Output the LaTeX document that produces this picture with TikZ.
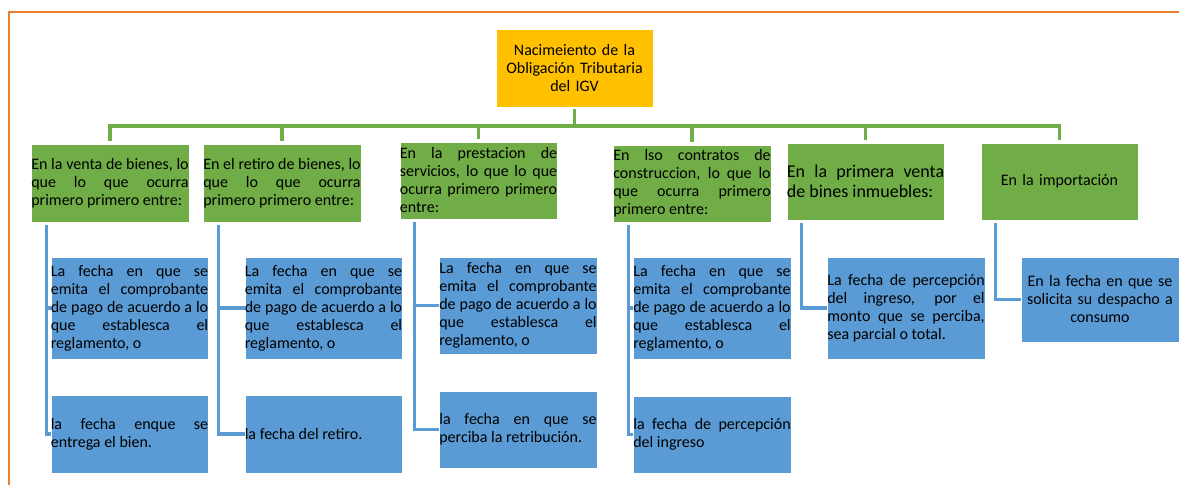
\documentclass[tikz,border=0pt]{standalone}
\usepackage{fontspec}
\setmainfont{Carlito}
\usepackage{tikz}
\definecolor{igvorange}{HTML}{FFC000}
\definecolor{igvgreen}{HTML}{70AD47}
\definecolor{igvblue}{HTML}{5B9BD5}
\definecolor{pagerule}{HTML}{ED7D31}
\tikzset{
  pageframe/.style={pagerule, line width=1pt},
  topbox/.style={fill=igvorange, draw=white, very thin, inner sep=0pt, text width=118pt,
    minimum height=58.5pt, align=center, font=\fontsize{12}{13.5}\selectfont},
  casebox/.style={fill=igvgreen, draw=white, very thin, inner sep=0pt, text width=118pt,
    minimum height=58pt, align=justify, font=\fontsize{12}{13.5}\selectfont},
  datebox/.style={fill=igvblue, draw=white, very thin, inner sep=0pt, text width=118pt,
    minimum height=58.5pt, align=justify, font=\fontsize{12}{13.5}\selectfont},
  treeline/.style={igvgreen, line width=2.5pt, shorten <=1.5pt, shorten >=2.2pt},
  dateline/.style={igvblue, line width=2.5pt, shorten <=2.2pt}
}
\newcommand{\fechacomp}{La fecha en que se\linebreak emita el comprobante\linebreak de pago de acuerdo a lo\linebreak que establesca el\linebreak reglamento, o}

\begin{document}
\begin{tikzpicture}[x=0.75pt,y=-0.75pt]
\useasboundingbox (0,0) rectangle (1179,485);
\draw[pageframe] (1179,12) -- (9,12) -- (9,485);

% root
\node[topbox] (igv) at (574.5,68) {Nacimeiento de la\\Obligación Tributaria\\del IGV};

% cases
\node[casebox] (venta) at (110,183) {En la venta de bienes, lo\linebreak que lo que ocurra\linebreak primero primero entre:};
\node[casebox] (retiro) at (282,183) {En el retiro de bienes, lo\linebreak que lo que ocurra\linebreak primero primero entre:};
\node[casebox] (servicio) at (478.5,180.5) {En la prestacion de\linebreak servicios, lo que lo que\linebreak ocurra primero primero\linebreak entre:};
\node[casebox] (contrato) at (692,183.5) {En lso contratos de\linebreak construccion, lo que lo\linebreak que ocurra primero\linebreak primero entre:};
\node[casebox, font=\fontsize{13.5}{15}\selectfont] (inmueble) at (865.5,181.5) {En la primera venta\linebreak de bines inmuebles:};
\node[casebox, align=center] (importa) at (1059.5,181.5) {En la importación};

\coordinate (bus) at (574.5,126);
\foreach \c in {venta,retiro,servicio,contrato,inmueble,importa}
  \draw[treeline] (igv.south) |- (bus -| \c.north) -- (\c.north);

% dates
\node[datebox, minimum height=76.5pt] (ventaA) at (129.5,308) {\fechacomp};
\node[datebox] (ventaB) at (129.5,434) {la fecha enque se\linebreak entrega el bien.};
\node[datebox, minimum height=76.5pt] (retiroA) at (323.5,308) {\fechacomp};
\node[datebox] (retiroB) at (323.5,434) {la fecha del retiro.};
\node[datebox, minimum height=72.75pt] (servicioA) at (518,305.5) {\fechacomp};
\node[datebox, minimum height=57.75pt] (servicioB) at (518,429.5) {la fecha en que se\linebreak perciba la retribución.};
\node[datebox, minimum height=76.5pt] (contratoA) at (712,308) {\fechacomp};
\node[datebox, minimum height=57.75pt] (contratoB) at (712,434.5) {la fecha de percepción\linebreak del ingreso};
\node[datebox, minimum height=76.5pt] (inmuebleA) at (906,308) {La fecha de percepción\linebreak del ingreso, por el\linebreak monto que se perciba,\linebreak sea parcial o total.};
\node[datebox, minimum height=63.75pt, align=center] (importaA) at (1100,299.5) {En la fecha en que se\\solicita su despacho a\\consumo};

\foreach \p/\c in {venta/ventaA, venta/ventaB, retiro/retiroA, retiro/retiroB,
    servicio/servicioA, servicio/servicioB, contrato/contratoA, contrato/contratoB,
    inmueble/inmuebleA, importa/importaA}
  \draw[dateline] ([xshift=11.25pt]\p.south west) |- (\c.west);
\end{tikzpicture}
\end{document}
